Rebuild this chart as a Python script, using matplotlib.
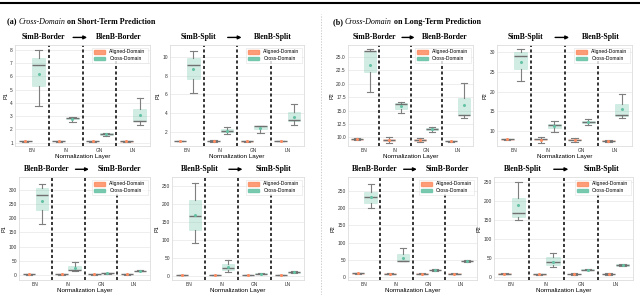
import matplotlib
matplotlib.use("Agg")
import matplotlib.pyplot as plt
from matplotlib.patches import Patch
from matplotlib.lines import Line2D

layers = ["BN", "IN", "GN", "LN"]
hues = ["Aligned-Domain", "Cross-Domain"]

# stats per layer: (whislo, q1, med, q3, whishi, mean)
a1_aligned = [(1.08, 1.1, 1.11, 1.13, 1.14, 1.11), (1.07, 1.09, 1.1, 1.12, 1.13, 1.1),
              (1.08, 1.1, 1.12, 1.14, 1.16, 1.12), (1.06, 1.08, 1.09, 1.11, 1.12, 1.09)]
a1_cross = [(3.75, 5.3, 6.85, 7.4, 8.0, 6.2), (2.55, 2.8, 2.85, 2.88, 2.9, 2.75),
            (1.52, 1.6, 1.65, 1.7, 1.75, 1.63), (2.35, 2.6, 2.65, 3.5, 4.35, 3.1)]

a2_aligned = [(0.95, 0.98, 1.0, 1.02, 1.04, 1.0), (0.93, 0.97, 1.0, 1.03, 1.06, 1.0),
              (0.9, 0.93, 0.95, 0.97, 1.0, 0.95), (0.96, 0.98, 1.0, 1.01, 1.03, 1.0)]
a2_cross = [(6.1, 7.6, 9.15, 9.95, 10.7, 8.7), (1.75, 1.95, 2.1, 2.25, 2.5, 2.1),
            (1.8, 2.3, 2.55, 2.6, 2.62, 2.4), (2.75, 3.1, 3.25, 4.15, 5.0, 3.6)]

a3_aligned = [(1, 1.5, 2, 2.5, 3, 2), (1, 1.5, 2, 2.5, 3, 2),
              (1, 1.5, 2, 2.5, 3, 2), (1, 1.5, 2, 2.5, 3, 2)]
a3_cross = [(178, 230, 283, 305, 322, 262), (15, 17, 18, 30, 45, 24),
            (4, 5, 6, 7, 8, 6), (12, 13, 14, 15, 16, 14)]

a4_aligned = [(1, 1.5, 2, 2.5, 3, 2), (1, 1.5, 2, 2.5, 3, 2),
              (1, 1.5, 2, 2.5, 3, 2), (1, 1.5, 2, 2.5, 3, 2)]
a4_cross = [(92, 127, 165, 212, 258, 170), (10, 15, 22, 33, 45, 25),
            (4, 5, 6, 7, 8, 6), (7, 8.5, 10, 11.5, 13, 10)]

b1_aligned = [(9.45, 9.55, 9.65, 9.75, 9.85, 9.65), (9.0, 9.3, 9.5, 9.7, 10.0, 9.5),
              (9.2, 9.4, 9.5, 9.65, 9.8, 9.5), (9.2, 9.25, 9.3, 9.35, 9.4, 9.3)]
b1_cross = [(18.5, 22.2, 26.0, 26.0, 26.5, 23.5), (14.5, 15.3, 16.3, 16.4, 16.6, 15.8),
            (11.0, 11.3, 11.5, 11.7, 11.9, 11.5), (13.7, 14.1, 14.2, 17.4, 20.2, 16.0)]

b2_aligned = [(7.7, 7.8, 7.9, 8.0, 8.1, 7.9), (7.0, 7.6, 7.9, 8.1, 8.5, 7.8),
              (7.3, 7.6, 7.8, 8.0, 8.3, 7.8), (7.3, 7.4, 7.5, 7.6, 7.7, 7.5)]
b2_cross = [(22.6, 25.8, 28.9, 29.9, 30.8, 27.5), (9.8, 10.8, 11.5, 11.8, 12.5, 11.2),
            (11.5, 12.0, 12.3, 12.6, 13.1, 12.3), (13.3, 13.8, 14.1, 16.8, 19.5, 15.6)]

b3_aligned = [(9, 10, 11, 12, 13, 11), (8, 9, 10, 11, 12, 10),
              (8, 9, 10, 11, 12, 10), (8, 9, 10, 11, 12, 10)]
b3_cross = [(200, 215, 232, 248, 270, 232), (46, 47, 48, 66, 85, 55),
            (19, 20, 21, 22, 23, 21), (45, 46, 47, 48, 49, 47)]

b4_aligned = [(7, 8, 9, 10, 11, 9), (5, 6, 7, 8, 9, 7),
              (6, 7, 8, 9, 10, 8), (6, 7, 8, 9, 10, 8)]
b4_cross = [(148, 157, 167, 208, 250, 188), (27, 32, 40, 52, 62, 40),
            (17, 18, 19, 20, 21, 19), (29, 30, 31, 33, 35, 32)]

panels = [
    ("SimB-Border", "BlenB-Border", "P1", a1_aligned, a1_cross, (0.75, 8.35), [1, 2, 3, 4, 5, 6, 7, 8]),
    ("SimB-Split", "BlenB-Split", "P1", a2_aligned, a2_cross, (0.45, 11.3), [2, 4, 6, 8, 10]),
    ("BlenB-Border", "SimB-Border", "P1", a3_aligned, a3_cross, (-18, 345), [0, 50, 100, 150, 200, 250, 300]),
    ("BlenB-Split", "SimB-Split", "P1", a4_aligned, a4_cross, (-12, 275), [0, 50, 100, 150, 200, 250]),
    ("SimB-Border", "BlenB-Border", "P2", b1_aligned, b1_cross, (8.4, 27.2), [10.0, 12.5, 15.0, 17.5, 20.0, 22.5, 25.0]),
    ("SimB-Split", "BlenB-Split", "P2", b2_aligned, b2_cross, (6.2, 31.8), [10, 15, 20, 25, 30]),
    ("BlenB-Border", "SimB-Border", "P2", b3_aligned, b3_cross, (-8, 290), [0, 50, 100, 150, 200, 250]),
    ("BlenB-Split", "SimB-Split", "P2", b4_aligned, b4_cross, (-8, 262), [0, 50, 100, 150, 200, 250]),
]

# axes boxes in pixels: left, top, right, bottom
W, H = 640, 295
boxes_px = [(15, 45, 150, 146), (170, 45, 304, 146), (19, 177, 150, 280), (172, 177, 304, 280),
            (348, 45, 473, 146), (497, 45, 632, 146), (348, 177, 477, 280), (494, 177, 633, 280)]

orange = "#fc8d62"
green = "#66c2a5"
serif = ["Liberation Serif", "DejaVu Serif"]

fig = plt.figure(figsize=(6.4, 2.95), dpi=100)
plt.rcParams["font.family"] = ["Liberation Sans", "DejaVu Sans"]


def make_stats(rows):
    out = []
    for lo, q1, med, q3, hi, mean in rows:
        out.append(dict(whislo=lo, q1=q1, med=med, q3=q3, whishi=hi, mean=mean, fliers=[]))
    return out


for (src, dst, ylab, aligned, cross, ylim, yticks), (l, t, r, b) in zip(panels, boxes_px):
    ax = fig.add_axes([l / W, 1 - b / H, (r - l) / W, (b - t) / H])
    pos = list(range(len(layers)))
    for rows, off, col in [(aligned, -0.2, orange), (cross, 0.2, green)]:
        ax.bxp(make_stats(rows), positions=[p + off for p in pos], widths=0.38,
               patch_artist=True, showmeans=True, showfliers=False,
               boxprops=dict(facecolor=col, alpha=0.3, edgecolor=col, lw=0.4),
               medianprops=dict(color="#707070", lw=1.0),
               whiskerprops=dict(color="#7f7f7f", lw=0.8),
               capprops=dict(color="#7f7f7f", lw=0.8),
               meanprops=dict(marker="o", markersize=1.2, markerfacecolor=col, markeredgecolor=col))
    ax.axvline(0.5, color="black", ls=(0, (2, 1.6)), lw=1.1)
    ax.axvline(1.5, color="black", ls=(0, (2, 1.6)), lw=1.1)
    ax.axvline(2.5, ymax=0.84, color="black", ls=(0, (2, 1.6)), lw=1.1)
    ax.set_xlim(-0.5, 3.5)
    ax.set_ylim(*ylim)
    ax.set_yticks(yticks)
    ax.set_xticks(pos)
    ax.set_xticklabels(layers)
    ax.tick_params(labelsize=3.5, length=0, pad=1.5, colors="#333333")
    ax.grid(axis="y", color="#ebebeb", lw=0.6)
    ax.set_axisbelow(True)
    for s in ax.spines.values():
        s.set_color("#dddddd")
        s.set_linewidth(0.6)
    ax.set_ylabel(ylab, fontsize=4, labelpad=1.5)
    ax.set_xlabel("Normalization Layer", fontsize=4.5, labelpad=0.5)
    handles = [Patch(facecolor=orange, edgecolor=orange, alpha=0.85),
               Patch(facecolor=green, edgecolor=green, alpha=0.85)]
    ax.legend(handles, hues, loc="upper right", fontsize=3.6, frameon=True,
              handlelength=2.2, handleheight=0.7, borderpad=0.4, labelspacing=0.35,
              edgecolor="#dddddd", fancybox=False).get_frame().set_linewidth(0.4)
    ax.text(0.21, 1.035, src, transform=ax.transAxes, ha="center", va="bottom",
            fontsize=5.5, fontweight="bold", family=serif)
    ax.text(0.77, 1.035, dst, transform=ax.transAxes, ha="center", va="bottom",
            fontsize=5.5, fontweight="bold", family=serif)
    ax.annotate("", xy=(0.555, 1.075), xytext=(0.41, 1.075), xycoords="axes fraction",
                arrowprops=dict(arrowstyle="-|>", color="black", lw=1.0, mutation_scale=5))

# panel headings
fig.canvas.draw()
renderer = fig.canvas.get_renderer()
for x0, lab, txt in [(7, "(a)", "Short-Term"), (333, "(b)", "Long-Term")]:
    t1 = fig.text(x0 / W, 1 - 22 / H, lab + " ", fontsize=5.8, fontweight="bold", family=serif, va="center")
    bb = t1.get_window_extent(renderer)
    t2 = fig.text(bb.x1 / W, 1 - 22 / H, "Cross-Domain", fontsize=5.8, style="italic",
                  family=serif, va="center")
    bb2 = t2.get_window_extent(renderer)
    fig.text(bb2.x1 / W, 1 - 22 / H, " on " + txt + " Prediction", fontsize=5.8,
             fontweight="bold", family=serif, va="center")

# top rule and vertical separator
fig.add_artist(Line2D([0, 1], [1 - 3 / H, 1 - 3 / H], color="black", lw=1.5))
fig.add_artist(Line2D([321 / W, 321 / W], [0.0, 1 - 14 / H], color="#bbbbbb", lw=0.5, ls=(0, (2, 2))))

fig.savefig("out.png", dpi=100)
